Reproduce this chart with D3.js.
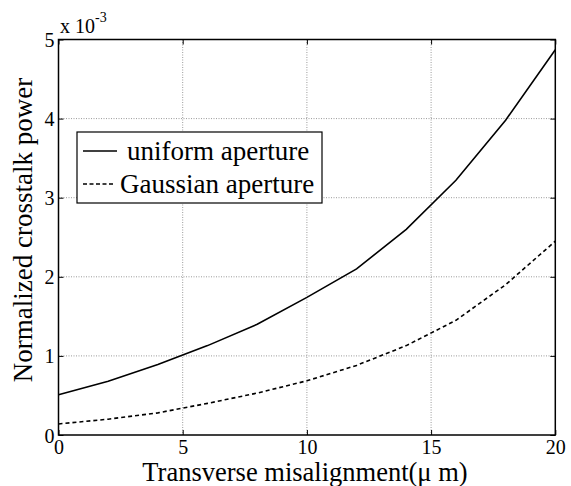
<!DOCTYPE html>
<html>
<head>
<meta charset="utf-8">
<script src="https://cdn.jsdelivr.net/npm/d3@7"></script>
<style>
  html, body { margin: 0; padding: 0; background: #fff; }
  svg { display: block; }
  svg text { font-family: "Liberation Serif", "DejaVu Serif", serif; fill: #000; }
</style>
</head>
<body>
<svg id="chart" width="571" height="486"></svg>
<script>
// Data (y values in units of 1e-3)
const misalignment = [0, 2, 4, 6, 8, 10, 12, 14, 16, 18, 20];
const uniformAperture = [0.51, 0.68, 0.89, 1.13, 1.40, 1.74, 2.10, 2.60, 3.22, 3.98, 4.87];
const gaussianAperture = [0.14, 0.20, 0.28, 0.40, 0.53, 0.685, 0.88, 1.13, 1.45, 1.90, 2.45];
const xTicks = [0, 5, 10, 15, 20];
const yTicks = [0, 1, 2, 3, 4, 5];
const seriesNames = ["uniform aperture", "Gaussian aperture"];
const xLabel = "Transverse misalignment(\u03bc m)";
const yLabel = "Normalized crosstalk power";

const FONT = '"Liberation Serif", "DejaVu Serif", serif';
const svg = d3.select("#chart");
const L = 58.5, R = 555.3, T = 39.5, B = 435;

const x = d3.scaleLinear().domain([0, 20]).range([L, R]);
const y = d3.scaleLinear().domain([0, 5]).range([B, T]);

// grid
const grid = svg.append("g");
grid.selectAll("line.gx").data(xTicks.slice(1, -1)).join("line")
  .attr("x1", d => x(d)).attr("x2", d => x(d)).attr("y1", T).attr("y2", B)
  .attr("stroke", "#9a9a9a").attr("stroke-width", 1).attr("stroke-dasharray", "1,1.5");
grid.selectAll("line.gy").data(yTicks.slice(1, -1)).join("line")
  .attr("x1", L).attr("x2", R).attr("y1", d => y(d)).attr("y2", d => y(d))
  .attr("stroke", "#9a9a9a").attr("stroke-width", 1).attr("stroke-dasharray", "1,1.5");

// axes with inward ticks
const tickLen = 5;
const xAxisB = d3.axisBottom(x).tickValues(xTicks).tickSize(-tickLen).tickPadding(5).tickFormat(d3.format("d"));
const xAxisT = d3.axisTop(x).tickValues(xTicks).tickSize(-tickLen).tickFormat("");
const yAxisL = d3.axisLeft(y).tickValues(yTicks).tickSize(-tickLen).tickPadding(4).tickFormat(d3.format("d"));
const yAxisR = d3.axisRight(y).tickValues(yTicks).tickSize(-tickLen).tickFormat("");

function style(g) {
  g.attr("font-family", null).attr("font-size", null);
  g.select(".domain").remove();
  g.selectAll(".tick line").attr("stroke", "#000").attr("stroke-width", 1);
  g.selectAll(".tick text").style("font-family", FONT).style("font-size", "20px").attr("fill", "#000");
}
svg.append("g").attr("transform", `translate(0,${B})`).call(xAxisB).call(style);
svg.append("g").attr("transform", `translate(0,${T})`).call(xAxisT).call(style);
svg.append("g").attr("transform", `translate(${L},0)`).call(yAxisL).call(style)
  .selectAll(".tick text").attr("dy", "0.35em");
svg.append("g").attr("transform", `translate(${R},0)`).call(yAxisR).call(style);

// box
svg.append("rect").attr("x", L).attr("y", T).attr("width", R - L).attr("height", B - T)
  .attr("fill", "none").attr("stroke", "#000").attr("stroke-width", 1.5);

// lines
const line = d3.line().x((d, i) => x(misalignment[i])).y(d => y(d));
svg.append("path").datum(uniformAperture).attr("d", line)
  .attr("fill", "none").attr("stroke", "#000").attr("stroke-width", 1.6);
svg.append("path").datum(gaussianAperture).attr("d", line)
  .attr("fill", "none").attr("stroke", "#000").attr("stroke-width", 1.6).attr("stroke-dasharray", "4,3");

// exponent label
const ex = svg.append("text").attr("x", 60).attr("y", 33).style("font-family", FONT).style("font-size", "20px");
ex.append("tspan").text("x 10");
ex.append("tspan").attr("dy", -11).style("font-size", "14px").text("-3");

// axis labels
svg.append("text").attr("x", 305).attr("y", 481).attr("text-anchor", "middle")
  .style("font-family", FONT).style("font-size", "26.5px").text(xLabel);
svg.append("text").attr("transform", "translate(32,230) rotate(-90)").attr("text-anchor", "middle")
  .style("font-family", FONT).style("font-size", "27px").text(yLabel);

// legend
const lg = svg.append("g");
lg.append("rect").attr("x", 77).attr("y", 132).attr("width", 245).attr("height", 71)
  .attr("fill", "#fff").attr("stroke", "#000").attr("stroke-width", 1.2);
const rows = [
  { name: seriesNames[0], dash: null, ly: 151, x2: 117, tx: 127 },
  { name: seriesNames[1], dash: "4,2.5", ly: 184, x2: 115, tx: 120 }
];
rows.forEach(r => {
  lg.append("line").attr("x1", 83).attr("x2", r.x2).attr("y1", r.ly).attr("y2", r.ly)
    .attr("stroke", "#000").attr("stroke-width", 1.4).attr("stroke-dasharray", r.dash);
  lg.append("text").attr("x", r.tx).attr("y", r.ly + 9)
    .style("font-family", FONT).style("font-size", "27px").text(r.name);
});
</script>
</body>
</html>
